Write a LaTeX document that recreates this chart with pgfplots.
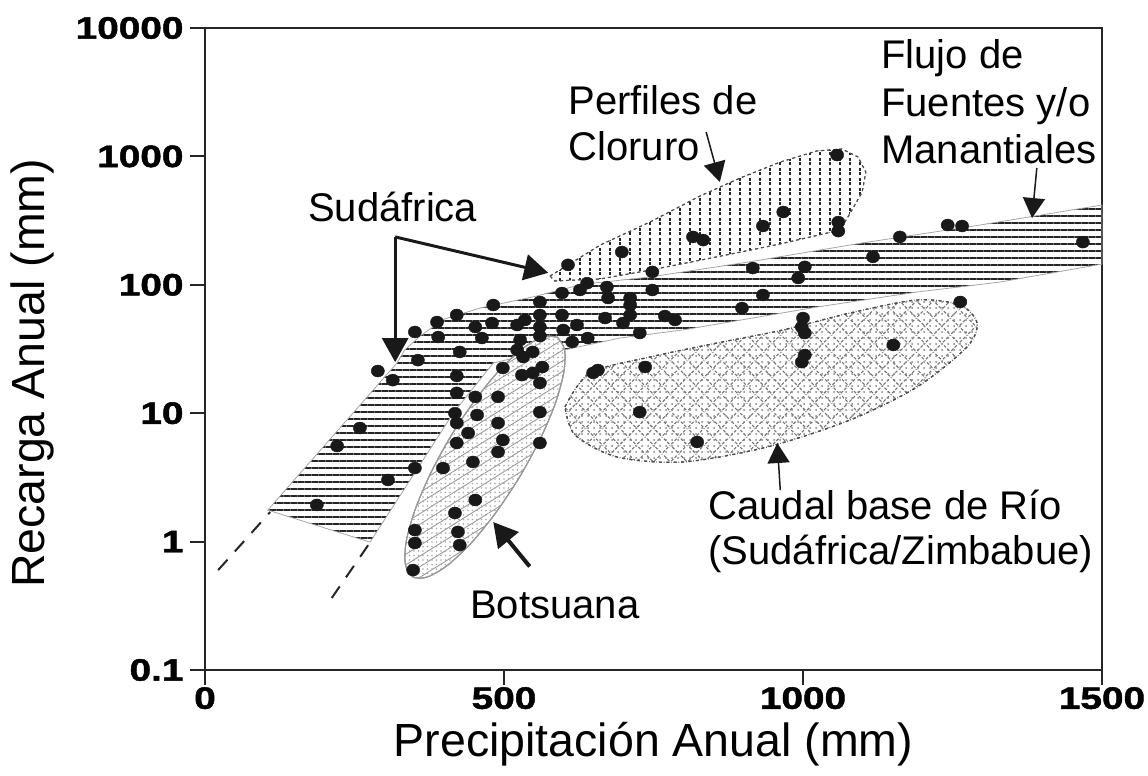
\documentclass[border=0pt]{standalone}
\usepackage{pgfplots}
\pgfplotsset{compat=1.18}
\usepackage{fontspec}
\setmainfont{Liberation Sans}
\newfontfamily\tickfont[FakeStretch=1.25,FakeBold=1.5]{Liberation Sans}
\usetikzlibrary{patterns.meta, arrows.meta}

\pgfplotstableread{
x y
187 1.93
221 5.55
259 7.67
289 21.3
314 18.1
306 3.02
351 3.74
356 25.9
351 42.9
388 51.3
390 39.2
421 58.2
482 69.6
452 46.9
463 38.5
480 50.4
426 30.0
421 19.5
421 14.4
452 13.4
490 13.4
418 10.0
421 8.39
455 9.68
490 8.39
560 10.2
440 7.01
498 6.18
421 5.86
490 4.99
560 5.86
448 4.17
398 3.74
452 2.11
418 1.67
423 1.19
426 0.94
351 1.23
351 0.975
348 0.60
522 48.6
535 53.2
560 73.5
597 86.3
627 91.1
639 103
607 143
560 58.2
560 46.9
560 39.9
597 58.2
599 44.5
622 48.6
640 38.5
614 35.9
672 96.1
674 78.9
669 55.1
527 37.2
522 31.1
532 27.4
548 30.0
498 22.5
564 22.9
530 19.8
548 20.6
560 17.2
649 20.6
657 21.7
736 22.9
727 10.2
823 5.97
1057 1026
1059 308
1059 262
967 369
933 287
816 236
833 223
697 180
748 126
916 135
1003 138
992 113
933 83.3
898 65.9
748 91.1
711 78.9
711 69.6
711 58.2
699 50.4
769 57.1
786 53.2
727 42.1
1000 55.1
998 46.9
1003 42.1
1003 28.4
998 25.0
1151 34.0
1263 73.5
1162 236
1242 292
1266 287
1117 165
1468 215
}\dots

\begin{document}
\begin{tikzpicture}
\path[use as bounding box] (-205pt,-106pt) rectangle (943pt,670pt);
\begin{axis}[
  at={(0,0)}, anchor=south west,
  scale only axis, width=897pt, height=642pt,
  xmin=0, xmax=1500, ymode=log, ymin=0.1, ymax=10000,
  xtick={0,500,1000,1500}, xticklabels={0,500,1000,1500},
  ytick={0.1,1,10,100,1000,10000}, yticklabels={0.1,1,10,100,1000,10000},
  xminorticks=false, yminorticks=false,
  xtick pos=bottom, ytick pos=left, tick align=outside,
  major tick length=15pt,
  axis line style={line width=2pt, black!85},
  tick style={line width=2pt, black!85},
  ticklabel style={font=\tickfont\bfseries\fontsize{31}{31}\selectfont},
  yticklabel style={xshift=-3pt},
  xticklabel style={inner sep=0pt, yshift=-2pt},
  xlabel={Precipitación Anual (mm)}, ylabel={Recarga Anual (mm)},
  label style={font=\fontsize{46.5}{46.5}\selectfont, inner sep=0pt},
  xlabel style={at={([yshift=-86pt]axis description cs:0.5,0)}, anchor=base},
  ylabel style={at={([xshift=-160pt]axis description cs:0,0.462)}, anchor=base},
  clip=false,
]
% Caudal base de Rio
\addplot[smooth, draw=black!70, dash dot, line width=1.2pt,
  pattern={Hatch[angle=45,distance=12pt,line width=1.1pt]}, pattern color=black!55,
  postaction={pattern={Dots[radius=1pt,distance=6pt]}, pattern color=black!50}]
  coordinates {(602,11.2) (643.8,20.6) (744.1,27.4) (856.2,35.2) (966.5,44.5) (1078.6,60.3)
  (1190.6,76.2) (1262.5,69.6) (1291,50.4) (1274.2,32.8) (1190.6,16.0) (1078.6,8.85)
  (939.8,5.45) (799.3,4.17) (689,4.56) (618.7,6.77) (602,11.2)} -- cycle;
% Sudafrica / Flujo band
\addplot[draw=gray!70, line width=0.8pt,
  pattern={Lines[angle=0,distance=7pt,line width=2.8pt]}, pattern color=black!85]
  coordinates {(105,1.76) (276,0.99) (415,10.0) (482,24.6) (560,30) (585,30) (694,38.5)
  (799,44.5) (1023,67.1) (1191,87.9) (1329,105) (1500,145) (1500,418) (1296,292)
  (1100,212) (911,151) (744,115) (632,101) (548,80.4) (460,65.9) (400,54) (360,40) (334,31.1)
  (321,24.6)} -- cycle;
% Perfiles de Cloruro
\addplot[draw=black!70, dashed, line width=1pt, preaction={fill=white},
  pattern={Lines[angle=90,distance=10pt,line width=2.6pt]}, pattern color=black!85]
  coordinates {(577,117) (661,204) (744,308) (828,492) (895,679) (962,904) (1023,1102)
  (1065,1142) (1092,989) (1105,756) (1099,528) (1082,383) (1062,267) (962,208)
  (856,165) (744,130) (661,111) (585,107)} -- cycle;
% Botsuana
\addplot[smooth, draw=gray!80, line width=1pt, preaction={fill=white},
  pattern={Lines[angle=32,distance=9pt,line width=0.8pt]}, pattern color=gray!85,
  postaction={pattern={Dots[radius=0.9pt,distance=4.5pt]}, pattern color=gray!70}]
  coordinates {(589.5,39.0) (601.3,31.3) (600,20.8) (585.8,11.9) (560,6.22) (525.4,3.15)
  (485.1,1.65) (443.3,0.954) (403.7,0.644) (370.6,0.528) (347,0.533) (335.1,0.664)
  (336.4,0.998) (350.7,1.74) (376.4,3.34) (411,6.61) (451.3,12.6) (493.1,21.8)
  (532.8,32.3) (565.9,39.4) (589.5,39.0)} -- cycle;
% dashed extensions
\addplot[black!85, line width=2pt, dash pattern=on 14pt off 11pt] coordinates {(22,0.60) (109,1.70)};
\addplot[black!85, line width=2pt, dash pattern=on 14pt off 11pt] coordinates {(212,0.364) (273,0.94)};
% data points
\addplot[only marks, mark=*, mark size=6pt, black!90, mark options={xscale=1.1}] table {\dots};

% annotations
\node[font=\fontsize{40}{46}\selectfont] at (axis cs:314,403) {Sudáfrica};
\draw[line width=3pt, black!90, -{Triangle[length=24pt,width=26pt]}] (axis cs:318,236) -- (axis cs:318,25);
\draw[line width=3pt, black!90, -{Triangle[length=24pt,width=26pt]}] (axis cs:318,236) -- (axis cs:574,124);
\node[font=\fontsize{40}{46}\selectfont, align=left, anchor=west] at (axis cs:602,1820) {Perfiles de\\Cloruro};
\draw[line width=1.5pt, black!90, -{Triangle[length=20pt,width=22pt]}] (axis cs:838,1549) -- (axis cs:861,632);
\node[font=\fontsize{40}{47.5}\selectfont, align=left, anchor=west] at (axis cs:1125,2654) {Flujo de\\Fuentes y/o\\Manantiales};
\draw[line width=1.5pt, black!90, -{Triangle[length=20pt,width=22pt]}] (axis cs:1391,812) -- (axis cs:1383,331);
\node[font=\fontsize{40}{45}\selectfont, align=left, anchor=west] at (axis cs:836,1.19) {Caudal base de Río\\(Sudáfrica/Zimbabue)};
\draw[line width=1.5pt, black!90, -{Triangle[length=20pt,width=22pt]}] (axis cs:962,2.52) -- (axis cs:957,5.86);
\node[font=\fontsize{40}{46}\selectfont] at (axis cs:585,0.321) {Botsuana};
\draw[line width=4pt, black!90, -{Triangle[length=24pt,width=26pt]}] (axis cs:543,0.64) -- (axis cs:482,1.42);
\end{axis}
\end{tikzpicture}
\end{document}
